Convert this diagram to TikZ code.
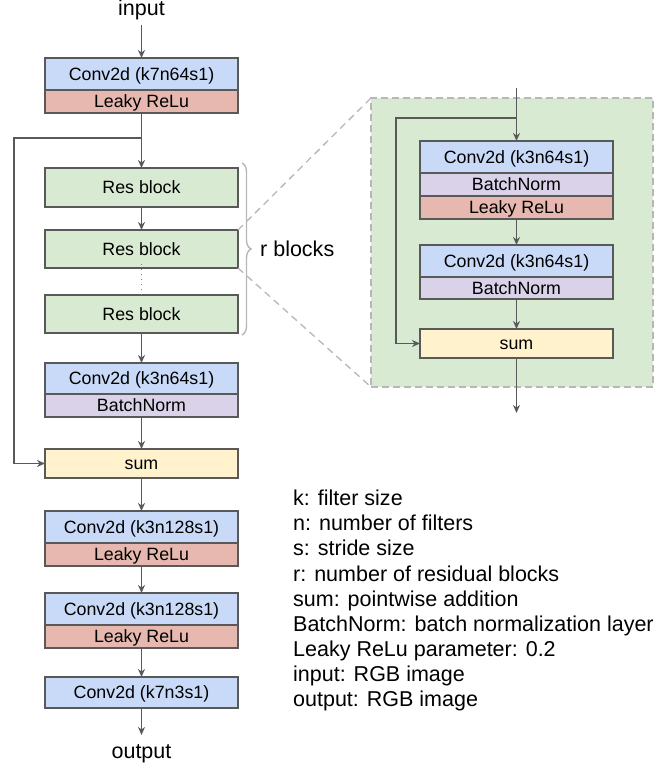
\documentclass[tikz,border=0pt]{standalone}
\usepackage{fontspec}
\setmainfont{Liberation Sans}
\usetikzlibrary{arrows.meta,decorations.pathreplacing}
\definecolor{convc}{HTML}{C9DAF8}
\definecolor{leakc}{HTML}{E6B8AF}
\definecolor{bnc}{HTML}{D9D2E9}
\definecolor{resc}{HTML}{D9EAD3}
\definecolor{sumc}{HTML}{FFF2CC}
\definecolor{bordc}{HTML}{595959}
\definecolor{dashc}{HTML}{B7B7B7}
\newcommand\boxfont{\fontsize{17.8}{20}\selectfont}
\newcommand\bigfont{\fontsize{21.5}{25}\selectfont}
\begin{document}
\begin{tikzpicture}[x=1pt,y=-1pt,
  blk/.style={draw=bordc, line width=1.4pt, minimum width=193pt, inner sep=0pt, outer sep=0pt,
    anchor=north, font=\boxfont, text height=12.7pt, text depth=0pt},
  conv/.style={blk, fill=convc, minimum height=32pt},
  leaky/.style={blk, fill=leakc, minimum height=23pt},
  bn/.style={blk, fill=bnc, minimum height=23pt},
  res/.style={blk, fill=resc, minimum height=38pt},
  sumbox/.style={blk, fill=sumc, minimum height=29pt},
  arr/.style={draw=bordc, line width=1.3pt, -{Stealth[length=8pt,width=7pt,inset=2.5pt]}},
  plain/.style={draw=bordc, line width=1.3pt},
  zoomline/.style={draw=dashc, line width=1.3pt, dash pattern=on 7pt off 5pt},
  lbl/.style={font=\bigfont, inner sep=0pt, anchor=base}]
\useasboundingbox (0,0) rectangle (665,765);

% ---------- main column ----------
\node[lbl] (input) at (141.5,15.5) {input};
\node[conv] (c1) at (141.5,58) {Conv2d (k7n64s1)};
\node[leaky] (l1) at (c1.south) {Leaky ReLu};

\node[res, minimum height=39pt] (rb1) at (141.5,168) {Res block};
\node[res] (rb2) at (141.5,230) {Res block};
\node[res] (rb3) at (141.5,295) {Res block};

\node[conv, minimum height=31pt] (c2) at (141.5,363) {Conv2d (k3n64s1)};
\node[bn] (b2) at (c2.south) {BatchNorm};

\node[sumbox] (s1) at (141.5,449) {sum};

\node[conv] (c3) at (141.5,511) {Conv2d (k3n128s1)};
\node[leaky] (l3) at (c3.south) {Leaky ReLu};

\node[conv] (c4) at (141.5,593) {Conv2d (k3n128s1)};
\node[leaky] (l4) at (c4.south) {Leaky ReLu};

\node[conv, minimum height=31pt] (c5) at (141.5,677) {Conv2d (k7n3s1)};
\node[lbl] (output) at (141.5,758) {output};

\coordinate (inb) at (141.5,25);
\coordinate (mb) at (141.5,138);
\coordinate (outt) at (141.5,735);

\draw[arr] (inb) -- (c1.north);
\draw[plain] (l1.south) -- (mb);
\draw[arr] (mb) -- (rb1.north);
\draw[arr] (mb) -- ++(-127.5,0) |- (s1.west);
\draw[arr] (rb1.south) -- (rb2.north);
\draw[draw=gray, line width=1pt, dash pattern=on 1pt off 4pt] ([yshift=4pt]rb2.south) -- ([yshift=-3pt]rb3.north);
\draw[arr] (rb3.south) -- (c2.north);
\draw[arr] (b2.south) -- (s1.north);
\draw[arr] (s1.south) -- (c3.north);
\draw[arr] (l3.south) -- (c4.north);
\draw[arr] (l4.south) -- (c5.north);
\draw[arr] (c5.south) -- (outt);

% ---------- brace ----------
\coordinate (bt) at (242,163);
\coordinate (bb) at (242,335);
\draw[draw=dashc, line width=1.4pt, decorate, decoration={brace, amplitude=9pt}] (bt) -- (bb);
\node[font=\bigfont, inner sep=0pt, anchor=west] (rbl) at (260,249) {r blocks};

% ---------- inset ----------
\node[draw=dashc, fill=resc, line width=1.3pt, dash pattern=on 7pt off 4pt,
      minimum width=282pt, minimum height=289pt, inner sep=0pt, outer sep=0pt,
      anchor=north west] (inset) at (371,98) {};
\draw[zoomline] (rb2.north east) -- (inset.north west);
\draw[zoomline] (rb2.south east) -- (inset.south west);

\node[conv] (cA) at (516.5,141) {Conv2d (k3n64s1)};
\node[bn] (bA) at (cA.south) {BatchNorm};
\node[leaky] (lA) at (bA.south) {Leaky ReLu};

\node[conv] (cB) at (516.5,245) {Conv2d (k3n64s1)};
\node[bn, minimum height=22pt] (bB) at (cB.south) {BatchNorm};

\node[sumbox] (sI) at (516.5,329) {sum};

\coordinate (iin) at (516.5,88);
\coordinate (ib) at (516.5,118);
\coordinate (iout) at (516.5,413);

\draw[plain] (iin) -- (ib);
\draw[arr] (ib) -- (cA.north);
\draw[arr] (ib) -- ++(-120.5,0) |- (sI.west);
\draw[arr] (lA.south) -- (cB.north);
\draw[arr] (bB.south) -- (sI.north);
\draw[arr] (sI.south) -- (iout);

% ---------- legend ----------
\foreach \t [count=\i] in {k: filter size, n: number of filters, s: stride size,
    r: number of residual blocks, sum: pointwise addition,
    BatchNorm: batch normalization layer, Leaky ReLu parameter: 0.2,
    input: RGB image, output: RGB image}
  \node[font=\bigfont, inner sep=0pt, anchor=base west] (leg\i) at (293,{505.7+25.1*(\i-1)}) {\t};
\end{tikzpicture}
\end{document}
